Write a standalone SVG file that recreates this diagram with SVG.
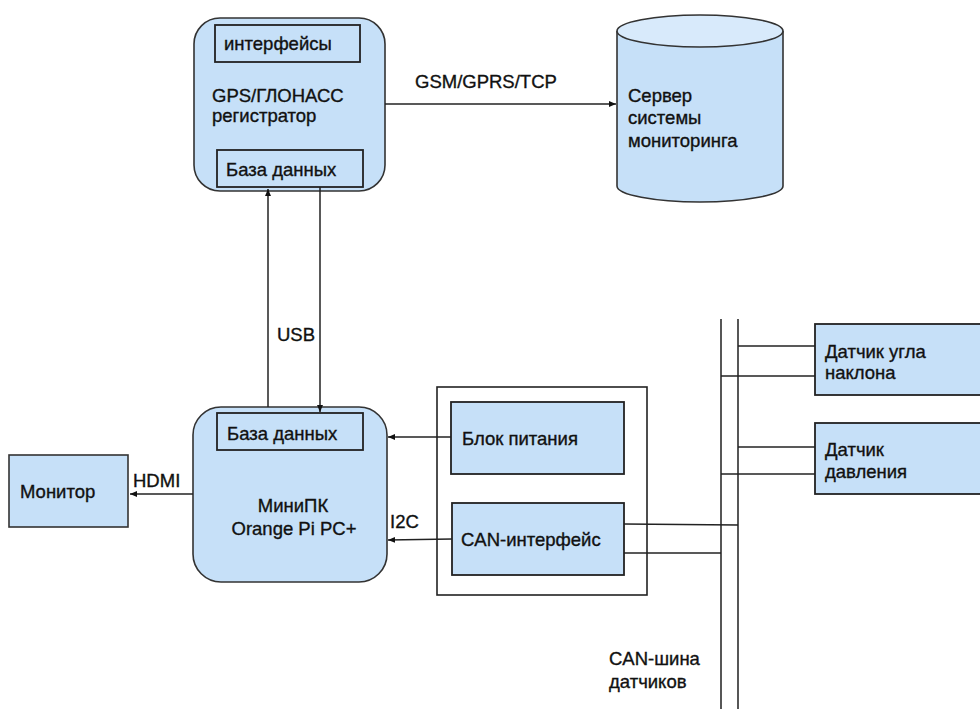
<svg xmlns="http://www.w3.org/2000/svg" width="980" height="709" viewBox="0 0 980 709">
  <defs>
    <marker id="arrow" markerWidth="8" markerHeight="8" refX="7" refY="4" orient="auto" markerUnits="userSpaceOnUse">
      <path d="M0,1 L7,4 L0,7 Z" fill="#111"/>
    </marker>
    <style>
      .node { fill: #c6e0f8; stroke: #333; stroke-width: 1.6; }
      .inner { fill: #c6e0f8; stroke: #222; stroke-width: 1.8; }
      .frame { fill: none; stroke: #222; stroke-width: 1.6; }
      .wire { fill: none; stroke: #222; stroke-width: 1.5; }
      .bus { fill: none; stroke: #444; stroke-width: 1.8; }
      text { font-family: "Liberation Sans", Arial, sans-serif; font-size: 18.5px; fill: #111; stroke: #111; stroke-width: 0.35; }
      .mid { text-anchor: middle; }
    </style>
  </defs>

  <rect width="980" height="709" fill="#ffffff"/>

  <!-- GPS/GLONASS tracker -->
  <g id="tracker">
    <rect class="node" x="194" y="18" width="191" height="173" rx="26" ry="26"/>
    <rect class="inner" x="215" y="25" width="145" height="37"/>
    <text x="224" y="50">интерфейсы</text>
    <text x="212" y="102">GPS/ГЛОНАСС</text>
    <text x="212" y="122">регистратор</text>
    <rect class="inner" x="217" y="150" width="146" height="37"/>
    <text x="226" y="176">База данных</text>
  </g>

  <!-- Monitoring server (cylinder) -->
  <g id="server">
    <path class="node" d="M617,31 L617,186 A83,16 0 0 0 783,186 L783,31"/>
    <ellipse cx="700" cy="31" rx="83" ry="16" fill="#d8eafb" stroke="#333" stroke-width="1.6"/>
    <text x="628" y="102">Сервер</text>
    <text x="628" y="124">системы</text>
    <text x="628" y="147">мониторинга</text>
  </g>

  <!-- Mini PC -->
  <g id="minipc">
    <rect class="node" x="193" y="407" width="194" height="175" rx="28" ry="28"/>
    <rect class="inner" x="217" y="413" width="146" height="37"/>
    <text x="227" y="440">База данных</text>
    <text class="mid" x="293" y="512">МиниПК</text>
    <text class="mid" x="294" y="535">Orange Pi PC+</text>
  </g>

  <!-- Monitor -->
  <g id="monitor">
    <rect class="node" x="9" y="455" width="119" height="72"/>
    <text x="20" y="498">Монитор</text>
  </g>

  <!-- Power / CAN module enclosure -->
  <g id="module">
    <rect class="frame" x="437" y="387" width="210" height="208"/>
  </g>

  <g id="power">
    <rect class="inner" x="451" y="402" width="173" height="72"/>
    <text x="462" y="445">Блок питания</text>
  </g>

  <g id="can">
    <rect class="inner" x="452" y="503" width="172" height="72"/>
    <text x="461" y="546">CAN-интерфейс</text>
  </g>

  <!-- Sensors -->
  <g id="tilt-sensor">
    <rect class="inner" x="815" y="324" width="170" height="71"/>
    <text x="825" y="358">Датчик угла</text>
    <text x="825" y="379">наклона</text>
  </g>

  <g id="pressure-sensor">
    <rect class="inner" x="815" y="423" width="170" height="71"/>
    <text x="825" y="456">Датчик</text>
    <text x="825" y="478">давления</text>
  </g>

  <!-- Connectors -->
  <g id="connectors">
    <!-- GSM link to server -->
    <line class="wire" x1="385" y1="104" x2="616" y2="104" marker-end="url(#arrow)"/>
    <!-- USB pair -->
    <line class="wire" x1="268" y1="407" x2="268" y2="189" marker-end="url(#arrow)"/>
    <line class="wire" x1="320" y1="187" x2="320" y2="412" marker-end="url(#arrow)"/>
    <!-- HDMI -->
    <line class="wire" x1="193" y1="494" x2="130" y2="494" marker-end="url(#arrow)"/>
    <!-- Power supply to mini PC -->
    <line class="wire" x1="451" y1="437" x2="388" y2="437" marker-end="url(#arrow)"/>
    <!-- I2C -->
    <line class="wire" x1="452" y1="539" x2="388" y2="540" marker-end="url(#arrow)"/>
    <!-- CAN bus -->
    <line class="bus" x1="721" y1="319" x2="721" y2="709"/>
    <line class="bus" x1="738" y1="319" x2="738" y2="709"/>
    <line class="wire" x1="624" y1="524" x2="738" y2="525"/>
    <line class="wire" x1="624" y1="553" x2="721" y2="553"/>
    <line class="wire" x1="738" y1="346" x2="815" y2="346"/>
    <line class="wire" x1="721" y1="376" x2="815" y2="376"/>
    <line class="wire" x1="738" y1="447" x2="815" y2="447"/>
    <line class="wire" x1="721" y1="474" x2="815" y2="474"/>
  </g>

  <!-- Connector labels -->
  <g id="labels">
    <text x="415" y="88">GSM/GPRS/TCP</text>
    <text x="277" y="341">USB</text>
    <text x="133" y="487">HDMI</text>
    <text x="390" y="528">I2C</text>
    <text x="609" y="665">CAN-шина</text>
    <text x="609" y="688">датчиков</text>
  </g>
</svg>
